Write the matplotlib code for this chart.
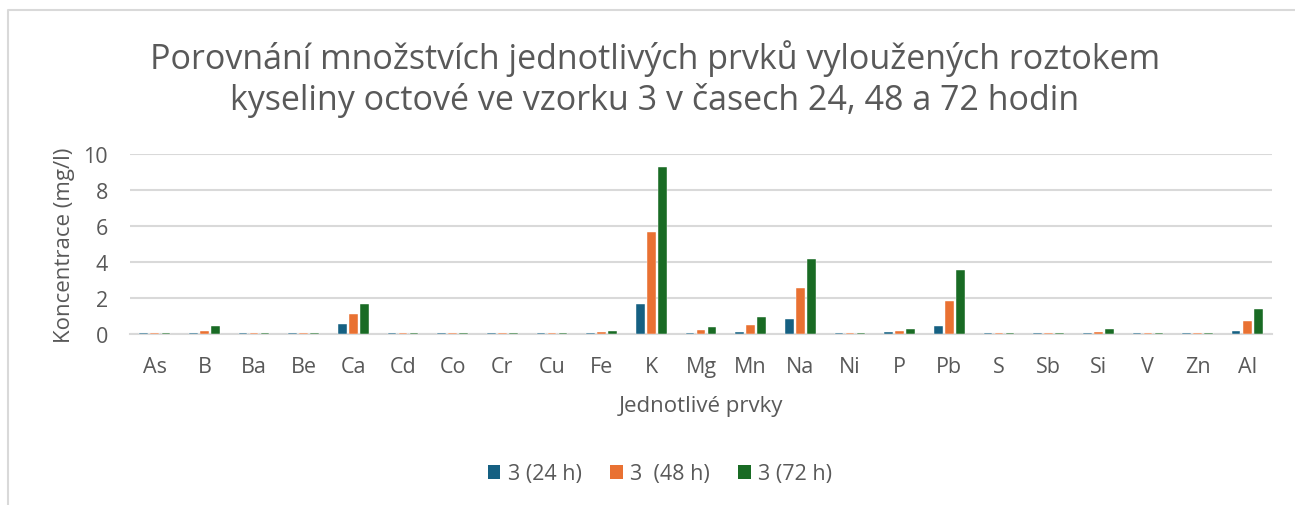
import matplotlib
matplotlib.use("Agg")
import matplotlib.pyplot as plt
from matplotlib.lines import Line2D
from matplotlib.patches import Patch
import numpy as np

plt.rcParams['font.family'] = ['Open Sans', 'DejaVu Sans']

prvky = ['As', 'B', 'Ba', 'Be', 'Ca', 'Cd', 'Co', 'Cr', 'Cu', 'Fe', 'K', 'Mg',
         'Mn', 'Na', 'Ni', 'P', 'Pb', 'S', 'Sb', 'Si', 'V', 'Zn', 'Al']

h24 = [0.08, 0.08, 0.08, 0.08, 0.55, 0.08, 0.08, 0.08, 0.08, 0.08, 1.66, 0.08,
       0.13, 0.84, 0.08, 0.12, 0.46, 0.08, 0.08, 0.08, 0.08, 0.08, 0.19]
h48 = [0.08, 0.19, 0.08, 0.08, 1.10, 0.08, 0.08, 0.08, 0.08, 0.12, 5.67, 0.22,
       0.49, 2.56, 0.08, 0.19, 1.83, 0.08, 0.08, 0.12, 0.08, 0.08, 0.74]
h72 = [0.08, 0.46, 0.08, 0.08, 1.64, 0.08, 0.08, 0.08, 0.08, 0.19, 9.26, 0.39,
       0.93, 4.16, 0.08, 0.27, 3.53, 0.08, 0.08, 0.27, 0.08, 0.08, 1.37]

serie = ['3 (24 h)', '3  (48 h)', '3 (72 h)']
barvy = ['#156082', '#E97132', '#196B24']
text_col = '#595959'

fig = plt.figure(figsize=(12.95, 5.06), dpi=100)
ax = fig.add_axes([130 / 1295, 1 - 335 / 506, 1142 / 1295, 180 / 506])

x = np.arange(len(prvky))
w = 0.175
step = 0.222
for i, (vals, col) in enumerate(zip([h24, h48, h72], barvy)):
    ax.bar(x + (i - 1) * step, vals, width=w, color=col, edgecolor='white',
           linewidth=0.3, zorder=3)

ax.set_xlim(-0.5, len(prvky) - 0.5)
ax.set_ylim(0, 10)
ax.set_yticks([0, 2, 4, 6, 8, 10])
ax.set_xticks(x)
ax.set_xticklabels(prvky)
ax.tick_params(length=0, labelsize=15.5, labelcolor=text_col)
ax.tick_params(axis='x', pad=16)
ax.tick_params(axis='y', pad=16)
ax.grid(axis='y', color='#d9d9d9', linewidth=1.5, zorder=0)
for s in ['top', 'right', 'left']:
    ax.spines[s].set_visible(False)
ax.spines['bottom'].set_color('#d9d9d9')
ax.spines['bottom'].set_linewidth(1.5)

ax.set_ylabel('Koncentrace (mg/l)', fontsize=16, color=text_col, labelpad=6)
ax.set_xlabel('Jednotlivé prvky', fontsize=16, color=text_col, labelpad=13)

fig.text(655 / 1295, 1 - 79 / 506,
         'Porovnání množstvích jednotlivých prvků vyloužených roztokem\n'
         'kyseliny octové ve vzorku 3 v časech 24, 48 a 72 hodin',
         ha='center', va='center', fontsize=24.5, color=text_col, linespacing=1.25)

handles = [Patch(facecolor=c, edgecolor='none') for c in barvy]
fig.legend(handles, serie, loc='center', bbox_to_anchor=(660 / 1295, 1 - 475 / 506),
           ncol=3, frameon=False, fontsize=15.5, labelcolor=text_col,
           handlelength=0.6, handleheight=0.6, handletextpad=0.35, columnspacing=1.3)

# okraj grafu
fig.add_artist(Line2D([8 / 1295, 8 / 1295, 1], [0, 1 - 11 / 506, 1 - 11 / 506],
                      transform=fig.transFigure, color='#d9d9d9', linewidth=1.5))

fig.savefig('out.png', dpi=100, facecolor='white')
